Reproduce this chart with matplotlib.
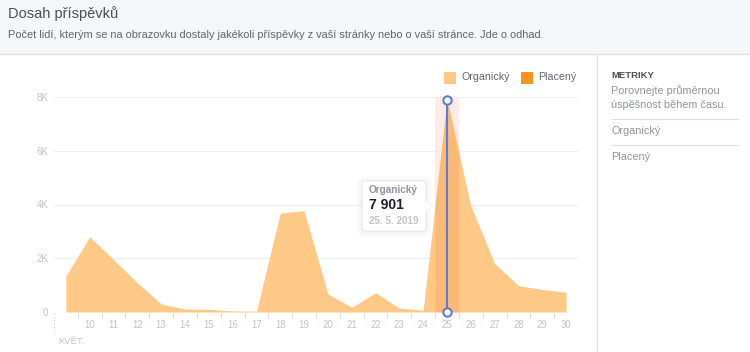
import matplotlib.pyplot as plt
from matplotlib.patches import Rectangle, FancyBboxPatch, Polygon
import numpy as np

plt.rcParams['font.family'] = ['Liberation Sans', 'DejaVu Sans']

# data: daily organic reach, May 2019
days = [9, 10, 11, 12, 13, 14, 15, 16, 17, 18, 19, 20, 21, 22, 23, 24, 25, 26, 27, 28, 29, 30]
organic = [1340, 2800, 1950, 1090, 300, 110, 100, 40, 30, 3680, 3770, 670, 175, 720, 140, 70,
           7901, 3950, 1810, 980, 840, 735]
paid = [0] * len(days)
yticks = [0, 2000, 4000, 6000, 8000]
ytick_labels = ['0', '2K', '4K', '6K', '8K']
hl_day = 25
hl_value = 7901
hl_date = '25. 5. 2019'

ORG = '#fec987'
PAID = '#f7941d'
GRAY = '#bec3c9'
LINE = '#dddfe2'

W, H = 750, 352
fig = plt.figure(figsize=(7.5, 3.52), dpi=100, facecolor='white')


def pixel_axes(z):
    a = fig.add_axes([0, 0, 1, 1], zorder=z)
    a.set_xlim(0, W)
    a.set_ylim(H, 0)
    a.axis('off')
    a.patch.set_alpha(0)
    return a


bg = pixel_axes(0)

# header
bg.add_patch(Rectangle((0, 0), W, 54, color='#f5f6f7', lw=0))
bg.plot([0, W], [54, 54], color=LINE, lw=1)
bg.text(8, 14, 'Dosah příspěvků', fontsize=10.5, color='#4b4f56', va='center')
bg.text(8, 35, 'Počet lidí, kterým se na obrazovku dostaly jakékoli příspěvky z vaší stránky '
        'nebo o vaší stránce. Jde o odhad.', fontsize=7.9, color='#606770', va='center')

# right panel
bg.plot([597, 597], [54, H], color=LINE, lw=1)
bg.text(611, 76, 'METRIKY', fontsize=6.8, color='#4b4f56', weight='bold', va='center')
bg.text(611, 91, 'Porovnejte průměrnou', fontsize=7.8, color='#90949c', va='center')
bg.text(611, 105, 'úspěšnost během času.', fontsize=7.8, color='#90949c', va='center')
bg.plot([611, 738], [119, 119], color=LINE, lw=0.8)
bg.text(611, 131, 'Organický', fontsize=7.8, color='#90949c', va='center')
bg.plot([611, 738], [145, 145], color=LINE, lw=0.8)
bg.text(611, 157, 'Placený', fontsize=7.8, color='#90949c', va='center')

# legend
for x0, col, lab in [(444, ORG, 'Organický'), (521, PAID, 'Placený')]:
    bg.add_patch(Rectangle((x0, 72), 12, 12, color=col, lw=0))
    bg.text(x0 + 17, 77.5, lab, fontsize=7.7, color='#606770', va='center')

# kvet label and dotted line
bg.plot([54, 54], [313, 336], color='#c8ccd1', lw=0.8, ls=(0, (1, 2)))
bg.text(58, 342, 'KVĚT.', fontsize=6.8, color=GRAY, va='center')

# chart axes
ax = fig.add_axes([54 / W, 1 - 312 / H, 524 / W, 215 / H], zorder=1)
ax.patch.set_alpha(0)
ax.set_xlim(8.5, 30.5)
ax.set_ylim(0, 8000)
for s in ax.spines.values():
    s.set_visible(False)

ax.set_yticks(yticks)
ax.set_yticklabels(ytick_labels)
ax.grid(axis='y', color='#eceef1', lw=0.8)
ax.set_axisbelow(True)
ax.tick_params(axis='y', length=0, pad=4, labelsize=7, labelcolor=GRAY)

ax.set_xticks(days[1:])
ax.set_xticklabels([str(d) for d in days[1:]])
ax.set_xticks(np.arange(9.5, 30, 1), minor=True)
ax.tick_params(axis='x', which='major', length=0, pad=6, labelsize=7, labelcolor=GRAY)
ax.tick_params(axis='x', which='minor', length=4, color=LINE, width=0.8)

ax.fill_between(days, organic, color=ORG, lw=0, zorder=2)
ax.fill_between(days, paid, color=PAID, lw=0, zorder=3)

# highlight band for selected day
ax.axvspan(hl_day - 0.5, hl_day + 0.5, color='#fde3d9', alpha=0.7, lw=0, zorder=1)
xs = np.linspace(hl_day - 0.5, hl_day + 0.5, 30)
ys = np.interp(xs, days, organic)
ax.fill_between(xs, ys, color='#f7a85c', alpha=0.45, lw=0, zorder=3)
ax.plot([hl_day, hl_day], [0, hl_value], color='#5b7be0', lw=1.5, zorder=4)
ax.plot([hl_day, hl_day], [0, hl_value], 'o', ms=6, mfc='white', mec='#5b7be0', mew=1.5,
        zorder=5, clip_on=False)

# tooltip
fg = pixel_axes(5)
bx0, by0, bx1, by1 = 362, 181, 426, 231
for k in range(6, 0, -1):
    fg.add_patch(FancyBboxPatch((bx0 - k, by0 - k + 1), bx1 - bx0 + 2 * k, by1 - by0 + 2 * k,
                                boxstyle='round,pad=0,rounding_size=%d' % (3 + k),
                                color='black', alpha=0.006, lw=0))
fg.add_patch(FancyBboxPatch((bx0, by0), bx1 - bx0, by1 - by0,
                            boxstyle='round,pad=0,rounding_size=3',
                            fc='white', ec='#e3e5e8', lw=0.7))
fg.add_patch(Polygon([(bx1 - 0.5, 201), (bx1 + 5, 206), (bx1 - 0.5, 211)],
                     closed=True, fc='white', ec='none'))
fg.text(369, 190, 'Organický', fontsize=7.2, color='#90949c', weight='bold', va='center')
fg.text(369, 205, f'{hl_value:,}'.replace(',', ' '), fontsize=10, color='#1d2129',
        weight='bold', va='center')
fg.text(369, 221, hl_date, fontsize=7.1, color='#bec3c9', weight='bold', va='center')

fig.savefig('out.png', dpi=100)
